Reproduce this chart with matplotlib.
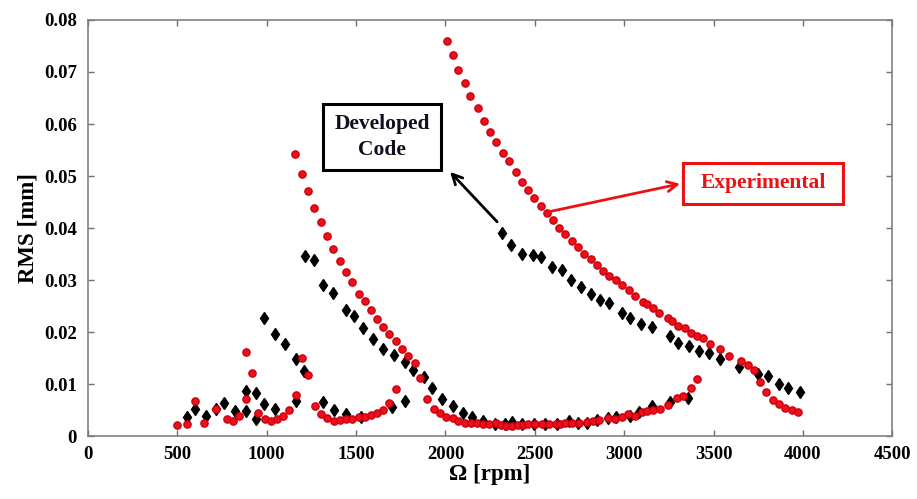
import matplotlib
matplotlib.use("Agg")
import matplotlib.pyplot as plt
from matplotlib.patches import Rectangle

# Experimental (red circles)
exp_low1_rpm = [496, 556, 600, 647, 718, 776, 813, 847, 882, 882, 918, 953, 991, 1024,
                1056, 1089, 1127, 1162, 1199, 1233, 1268, 1302, 1339, 1377, 1410, 1444,
                1479, 1517, 1548, 1581, 1619, 1651, 1686, 1722]
exp_low1_rms = [0.0021, 0.0023, 0.0068, 0.0026, 0.0052, 0.0033, 0.0029, 0.0038, 0.0071,
                0.0161, 0.0121, 0.0045, 0.0033, 0.0029, 0.0033, 0.0039, 0.0051, 0.0080,
                0.0151, 0.0118, 0.0058, 0.0042, 0.0035, 0.0030, 0.0031, 0.0032, 0.0033,
                0.0036, 0.0037, 0.0040, 0.0045, 0.0050, 0.0064, 0.0090]

exp_peak1_rpm = [1158, 1196, 1233, 1267, 1302, 1339, 1373, 1410, 1444, 1479, 1517, 1548,
                 1581, 1619, 1651, 1686, 1722, 1759, 1793, 1830, 1858, 1899, 1936, 1970,
                 2003, 2041, 2072, 2110, 2143]
exp_peak1_rms = [0.0542, 0.0504, 0.0471, 0.0438, 0.0412, 0.0385, 0.0359, 0.0337, 0.0315,
                 0.0296, 0.0274, 0.0260, 0.0242, 0.0225, 0.0210, 0.0196, 0.0183, 0.0168,
                 0.0154, 0.0140, 0.0111, 0.0071, 0.0053, 0.0045, 0.0037, 0.0034, 0.0029,
                 0.0026, 0.0026]

exp_low2_rpm = [2178, 2212, 2246, 2281, 2310, 2340, 2374, 2405, 2435, 2464, 2501, 2539,
                2580, 2617, 2643, 2669, 2707, 2749, 2791, 2828, 2861, 2912, 2949, 2987,
                3024, 3061, 3098, 3130, 3163, 3201, 3247, 3294, 3331, 3372, 3410]
exp_low2_rms = [0.0025, 0.0024, 0.0024, 0.0025, 0.0022, 0.0020, 0.0020, 0.0021, 0.0021,
                0.0023, 0.0023, 0.0023, 0.0023, 0.0024, 0.0024, 0.0026, 0.0026, 0.0026,
                0.0028, 0.0029, 0.0031, 0.0034, 0.0032, 0.0037, 0.0042, 0.0039, 0.0046,
                0.0049, 0.0051, 0.0053, 0.0060, 0.0073, 0.0077, 0.0092, 0.0110]

exp_peak2_rpm = [2007, 2041, 2072, 2110, 2138, 2181, 2216, 2250, 2283, 2321, 2358, 2393,
                 2427, 2464, 2498, 2535, 2567, 2600, 2637, 2669, 2707, 2740, 2777, 2813,
                 2847, 2884, 2917, 2955, 2990, 3027, 3061, 3104, 3126, 3160, 3197, 3247,
                 3266, 3303, 3340, 3374, 3410, 3443, 3481, 3537, 3587, 3654, 3692, 3729,
                 3760, 3794, 3831, 3867, 3900, 3938, 3975]
exp_peak2_rms = [0.0760, 0.0733, 0.0704, 0.0678, 0.0654, 0.0631, 0.0606, 0.0585, 0.0565,
                 0.0544, 0.0528, 0.0508, 0.0489, 0.0474, 0.0458, 0.0443, 0.0429, 0.0415,
                 0.0401, 0.0388, 0.0375, 0.0363, 0.0351, 0.0340, 0.0329, 0.0318, 0.0308,
                 0.0300, 0.0290, 0.0280, 0.0270, 0.0258, 0.0254, 0.0246, 0.0236, 0.0228,
                 0.0222, 0.0212, 0.0208, 0.0199, 0.0193, 0.0188, 0.0177, 0.0167, 0.0154,
                 0.0144, 0.0137, 0.0127, 0.0104, 0.0085, 0.0070, 0.0062, 0.0055, 0.0051,
                 0.0047]

# Developed code (black diamonds)
code_low1_rpm = [552, 600, 660, 718, 763, 824, 882, 882, 940, 940, 987, 1046, 1162,
                 1317, 1375, 1444, 1526, 1699, 1774]
code_low1_rms = [0.0036, 0.0052, 0.0038, 0.0052, 0.0064, 0.0048, 0.0087, 0.0048, 0.0083,
                 0.0032, 0.0062, 0.0052, 0.0067, 0.0065, 0.0050, 0.0042, 0.0036, 0.0056,
                 0.0067]

code_peak1_rpm = [987, 1046, 1104, 1162, 1209]
code_peak1_rms = [0.0228, 0.0196, 0.0178, 0.0148, 0.0125]

code_peak2_rpm = [1214, 1267, 1317, 1373, 1444, 1488, 1537, 1593, 1653, 1712, 1774, 1817,
                  1880, 1923, 1983, 2044, 2100, 2147, 2212, 2278]
code_peak2_rms = [0.0346, 0.0338, 0.0290, 0.0275, 0.0242, 0.0231, 0.0207, 0.0186, 0.0167,
                  0.0156, 0.0142, 0.0128, 0.0114, 0.0092, 0.0071, 0.0057, 0.0044, 0.0036,
                  0.0029, 0.0024]

code_low2_rpm = [2335, 2371, 2427, 2496, 2557, 2626, 2693, 2744, 2791, 2850, 2908, 2955,
                 3033, 3085, 3154, 3257, 3359]
code_low2_rms = [0.0024, 0.0028, 0.0023, 0.0023, 0.0023, 0.0023, 0.0029, 0.0026, 0.0026,
                 0.0031, 0.0034, 0.0036, 0.0039, 0.0046, 0.0058, 0.0066, 0.0074]

code_peak3_rpm = [2318, 2367, 2427, 2489, 2533, 2595, 2651, 2701, 2757, 2813, 2865, 2917,
                  2990, 3035, 3096, 3154, 3259, 3303, 3361, 3421, 3477, 3537, 3644, 3748,
                  3807, 3867, 3915, 3984]
code_peak3_rms = [0.0391, 0.0367, 0.0351, 0.0348, 0.0344, 0.0326, 0.0320, 0.0300, 0.0287,
                  0.0273, 0.0262, 0.0256, 0.0236, 0.0228, 0.0215, 0.0210, 0.0193, 0.0179,
                  0.0174, 0.0164, 0.0159, 0.0148, 0.0133, 0.0120, 0.0115, 0.0101, 0.0092,
                  0.0085]

exp_rpm = exp_low1_rpm + exp_peak1_rpm + exp_low2_rpm + exp_peak2_rpm
exp_rms = exp_low1_rms + exp_peak1_rms + exp_low2_rms + exp_peak2_rms
code_rpm = code_low1_rpm + code_peak1_rpm + code_peak2_rpm + code_low2_rpm + code_peak3_rpm
code_rms = code_low1_rms + code_peak1_rms + code_peak2_rms + code_low2_rms + code_peak3_rms

plt.rcParams["font.family"] = ["Liberation Serif", "DejaVu Serif"]
plt.rcParams["font.weight"] = "bold"

fig = plt.figure(figsize=(9.17, 4.99), dpi=100)
ax = fig.add_axes([0.096, 0.126, 0.877, 0.834])

ax.plot(code_rpm, code_rms, linestyle="none", marker="d", markersize=6.5,
        color="black", zorder=3)
ax.plot(exp_rpm, exp_rms, linestyle="none", marker="o", markersize=5.2,
        markerfacecolor="#ec1019", markeredgecolor="#cc0010", zorder=4)

ax.set_xlim(0, 4500)
ax.set_ylim(0, 0.08)
ax.set_xticks(range(0, 4501, 500))
ax.set_yticks([0, 0.01, 0.02, 0.03, 0.04, 0.05, 0.06, 0.07, 0.08])
ax.set_yticklabels(["0", "0.01", "0.02", "0.03", "0.04", "0.05", "0.06", "0.07", "0.08"])
ax.tick_params(direction="in", top=True, right=True, length=4, width=1,
               color="#707070", labelsize=13.5)
ax.tick_params(axis="x", pad=7)
ax.tick_params(axis="y", pad=8)
for lab in ax.get_xticklabels() + ax.get_yticklabels():
    lab.set_fontweight("bold")
for sp in ax.spines.values():
    sp.set_color("#808080")
    sp.set_linewidth(1.2)

ax.set_xlabel("Ω [rpm]", fontsize=16.5, fontweight="bold", labelpad=1)
ax.set_ylabel("RMS [mm]", fontsize=16.5, fontweight="bold", labelpad=4)

# "Developed Code" callout
ax.add_patch(Rectangle((1315, 0.0512), 660, 0.0126, fc="white", ec="black",
                       lw=2.2, zorder=5))
ax.text(1645, 0.0575, "Developed\nCode", fontsize=15.5, fontweight="bold",
        color="#101020", ha="center", va="center", linespacing=1.35, zorder=6)
ax.annotate("", xy=(2026, 0.0508), xytext=(2289, 0.0412),
            arrowprops=dict(arrowstyle="->", color="black", lw=2,
                            shrinkA=0, shrinkB=0, mutation_scale=18), zorder=6)

# "Experimental" callout
ax.add_patch(Rectangle((3330, 0.0446), 895, 0.0079, fc="white", ec="#ee1111",
                       lw=2.2, zorder=5))
ax.text(3777, 0.0486, "Experimental", fontsize=15.5, fontweight="bold",
        color="#ee1111", ha="center", va="center", zorder=6)
ax.annotate("", xy=(3313, 0.0485), xytext=(2574, 0.0431),
            arrowprops=dict(arrowstyle="->", color="#ee1111", lw=2,
                            shrinkA=0, shrinkB=0, mutation_scale=18), zorder=6)

fig.savefig("out.png", dpi=100)
